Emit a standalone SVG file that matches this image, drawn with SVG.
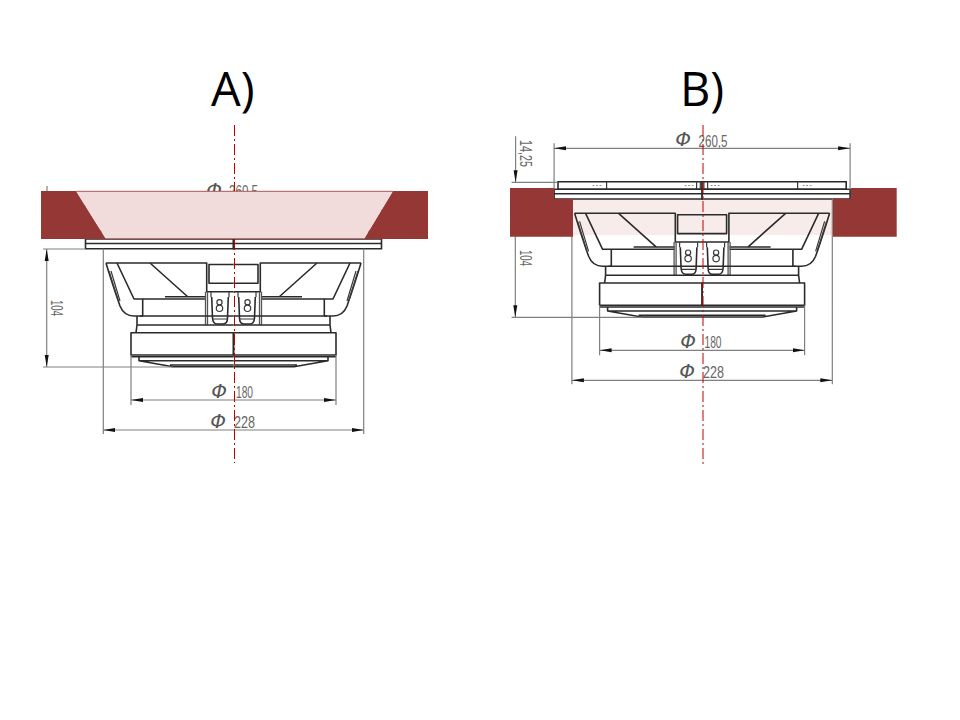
<svg xmlns="http://www.w3.org/2000/svg" xmlns:xlink="http://www.w3.org/1999/xlink" width="960" height="720" viewBox="0 0 960 720">
<style>
.o{fill:none;stroke:#2b2b2b;stroke-width:1.6;stroke-linejoin:round}
.t{fill:none;stroke:#3a3a3a;stroke-width:1.2}
.h{fill:none;stroke:#555;stroke-width:1.3}
.d{fill:none;stroke:#808080;stroke-width:1.2}
.a{marker-start:url(#ah);marker-end:url(#ah)}
.e{marker-end:url(#ah)}
.w{fill:#fff;stroke:#2b2b2b;stroke-width:1.6}
.n{font-family:"Liberation Sans",Arial,sans-serif;font-size:16.5px;fill:#666}
.p{font-family:"DejaVu Sans",sans-serif;font-size:20px;font-style:italic;fill:#555;text-anchor:middle}
.title{font-family:"Open Sans","Liberation Sans",sans-serif;font-size:47px;fill:#000}
.cl{fill:none;stroke:#c00000;stroke-width:1;stroke-dasharray:11 3 2 3}
.band{fill:#953735}
</style>
<defs>
<marker id="ah" viewBox="0 0 12 6" refX="12" refY="3" markerWidth="12" markerHeight="6" markerUnits="userSpaceOnUse" orient="auto-start-reverse"><path d="M0 1L12 3L0 5Z" fill="#111"/></marker>
<g id="half">
<path class="o" d="M106 263H206.7V291.7H233.5M233.5 264.5H209V283.3H233.5"/>
<path class="o" d="M106 263Q112 283 120 306Q124 316 134 316H143"/>
<path class="t" d="M109 271L118 300M111 271L120 301"/>
<path class="o" d="M117 263L134 299H142.7V316"/>
<path class="o" d="M150 263L188 297M165 296.7H206M143 299H206"/>
<path class="h" d="M205.5 291.7V325M207.5 291.7V325"/>
<path class="o" d="M211.7 297L212.5 318Q213 324 217 324H223Q227.5 324 227.5 318L228.3 297"/>
<path class="t" d="M211 292V297M229 292V297M213 319H227"/>
<circle class="t" cx="219.5" cy="302.3" r="2.6"/>
<circle class="t" cx="219.5" cy="308.3" r="3.2"/>
<path class="o" d="M140 316H233.5M137 316V325H233.5M137 325L136 332.7"/>
<path class="o" d="M131 332.7H233.5V355H131ZM131 356.7H233.5M139 357V360.7H233.5M139 360.7L173 366.7H233.5M170 365H233.5"/>
<path class="w" d="M89.4 231.4H233.5V239H89.4Z"/>
<path class="t" d="M138 231.4V239M228 231.4V239M231.7 231.4V239"/>
<path d="M124 235.2H134M216 235.2H226" stroke="#999" stroke-width="1" stroke-dasharray="2 1.5" fill="none"/>
<path class="w" d="M85.5 239H233.5V248.7H85.5Z"/>
<path class="o" d="M85.5 243.5H233.5"/>
<path class="d" d="M103.3 248.7V434M131 355V405M85.5 193V239"/>
</g>
<g id="speaker">
<use xlink:href="#half" href="#half"/>
<use xlink:href="#half" href="#half" transform="translate(467,0) scale(-1,1)"/>
<path class="d a" d="M85.5 198H381.5"/>
<path class="d a" d="M131 400H336"/>
<path class="d a" d="M103.3 430H363.7"/>
<path class="d a" d="M46.7 249V367"/>
<path class="d e" d="M47 186V232"/>
<path class="d" d="M43 249H85.5M43 367H173M43 232H89"/>
</g>
</defs>

<g id="speaker-a"><use xlink:href="#speaker" href="#speaker"/></g>
<g id="speaker-b"><path d="M573 198.7H833V235H573Z" fill="#f2dcdb" opacity="0.55"/><use xlink:href="#speaker" href="#speaker" transform="translate(468.6,-49.7)"/></g>

<g id="labels-a">
<text class="p" x="214" y="197">Φ</text>
<text class="n" x="229" y="197" textLength="29" lengthAdjust="spacingAndGlyphs">260.5</text>
<text class="n" transform="translate(50.5,300) rotate(90)" textLength="16" lengthAdjust="spacingAndGlyphs">104</text>
<text class="p" x="219" y="398">Φ</text>
<text class="n" x="236" y="398" textLength="17" lengthAdjust="spacingAndGlyphs">180</text>
<text class="p" x="218" y="428">Φ</text>
<text class="n" x="234" y="428" textLength="21" lengthAdjust="spacingAndGlyphs">228</text>
</g>
<g id="labels-b">
<text class="p" x="683" y="146">Φ</text>
<text class="n" x="698.5" y="146.5" textLength="29" lengthAdjust="spacingAndGlyphs">260,5</text>
<text class="n" transform="translate(519.5,140) rotate(90)" textLength="27" lengthAdjust="spacingAndGlyphs">14,25</text>
<text class="n" transform="translate(519.5,250) rotate(90)" textLength="16" lengthAdjust="spacingAndGlyphs">104</text>
<text class="p" x="688" y="348">Φ</text>
<text class="n" x="704.5" y="347.5" textLength="17" lengthAdjust="spacingAndGlyphs">180</text>
<text class="p" x="687" y="378">Φ</text>
<text class="n" x="703" y="378" textLength="21" lengthAdjust="spacingAndGlyphs">228</text>
</g>

<g id="cut-a">
<path class="cl" d="M234.5 125V463"/>
<path class="band" d="M41 191H76L106 239H41Z"/>
<path class="band" d="M393 191H428V239H364Z"/>
<path d="M76 191H393L364 239H106Z" fill="#f2dcdb"/>
<path d="M76 191.3H393M106 238.7H364" stroke="#953735" stroke-width="0.8" fill="none"/>
</g>
<g id="cut-b">
<path class="band" d="M510 188H554V198.7H573V236.7H510Z"/>
<path class="band" d="M851 188H896.7V236.7H833V198.7H851Z"/>
<path class="cl" d="M703 125V465"/>
</g>
<path class="cl" d="M234.5 239V463"/>
<text class="title" x="211" y="106">A)</text>
<text class="title" x="680" y="106">B)</text>
</svg>
